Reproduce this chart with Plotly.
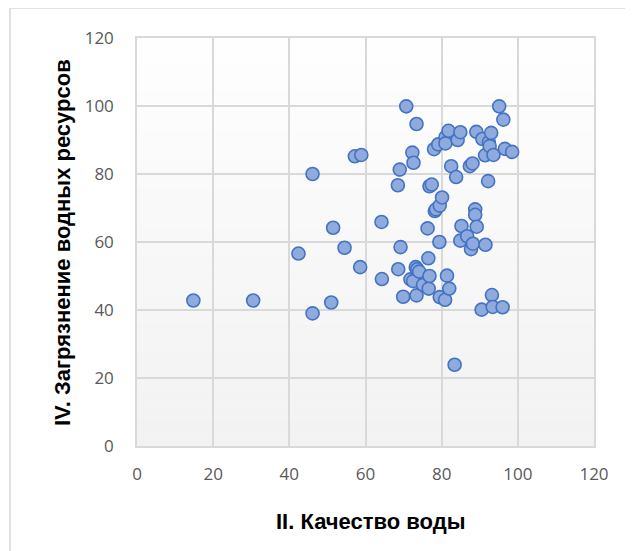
import plotly.graph_objects as go

# II. Качество воды (x) and IV. Загрязнение водных ресурсов (y)
water_quality = [
    14.8, 30.5, 42.4, 46.1, 46.1, 51.0, 51.5, 54.5, 57.2, 58.9,
    58.6, 64.3, 64.2, 68.6, 68.5, 69.0, 69.2, 69.9, 70.7, 72.3,
    72.6, 73.4, 73.4, 71.8, 72.5, 73.2, 73.6, 74.1, 75.1, 76.5,
    76.3, 76.6, 76.8, 76.8, 77.4, 78.0, 78.2, 78.5, 79.1, 79.4,
    79.5, 80.1, 79.5, 80.9, 81.4, 82.0, 81.0, 81.0, 81.8, 82.5,
    83.4, 83.8, 84.2, 84.9, 84.9, 85.2, 86.7, 87.4, 88.1, 87.7,
    88.2, 88.8, 88.8, 89.2, 89.1, 90.5, 90.7, 91.5, 91.4, 92.2,
    92.4, 92.6, 93.0, 93.2, 93.4, 93.6, 95.1, 96.0, 96.2, 96.6,
    98.5,
]
water_pollution = [
    42.8, 42.8, 56.6, 80.0, 39.0, 42.2, 64.2, 58.3, 85.2, 85.6,
    52.6, 49.1, 65.9, 52.0, 76.7, 81.3, 58.5, 43.9, 99.9, 86.3,
    83.3, 94.7, 44.3, 49.0, 48.5, 52.6, 52.0, 51.3, 47.4, 55.2,
    64.0, 46.3, 50.0, 76.4, 76.9, 87.3, 69.1, 69.6, 88.7, 60.0,
    70.7, 73.1, 43.8, 43.0, 50.1, 46.3, 90.8, 89.0, 92.7, 82.3,
    23.9, 79.1, 90.0, 92.3, 60.4, 64.7, 61.7, 82.3, 83.1, 57.9,
    59.5, 69.6, 68.0, 64.5, 92.4, 40.1, 90.3, 59.2, 85.5, 77.9,
    89.4, 88.2, 92.1, 44.4, 40.9, 85.6, 99.9, 40.8, 96.0, 87.4,
    86.5,
]
tick_vals = [0, 20, 40, 60, 80, 100, 120]
x_title = "II. Качество воды"
y_title = "IV. Загрязнение водных ресурсов"

fig = go.Figure()
fig.add_trace(go.Scatter(
    x=water_quality, y=water_pollution, mode="markers",
    marker=dict(size=13, color="#8faadc", line=dict(color="#4472c4", width=1.6)),
    showlegend=False, hoverinfo="x+y",
))

# subtle vertical gradient in plot area
shapes = []
n = 30
for i in range(n):
    t = i / (n - 1)
    c = int(round(254 - (254 - 242) * t))
    shapes.append(dict(type="rect", xref="paper", yref="paper",
                       x0=0, x1=1, y0=1 - (i + 1) / n, y1=1 - i / n,
                       fillcolor=f"rgb({c},{c},{c})", line=dict(width=0), layer="below"))
# outer chart border (left/top visible)
shapes.append(dict(type="rect", xref="paper", yref="paper",
                   x0=-0.2779, x1=1.3, y0=-0.5, y1=1.0735,
                   line=dict(color="#d9d9d9", width=1.5), fillcolor="rgba(0,0,0,0)", layer="above"))

axis_common = dict(
    range=[0, 120], tickvals=tick_vals, showgrid=True, gridcolor="#d9d9d9", gridwidth=1.5,
    showline=True, mirror=True, linecolor="#d9d9d9", linewidth=1.5, zeroline=False,
    tickfont=dict(family="Open Sans", size=17, color="#595959"), ticks="",
)

fig.update_layout(
    width=625, height=543,
    margin=dict(l=129, r=39, t=30, b=105),
    paper_bgcolor="white", plot_bgcolor="#fafafa",
    xaxis=dict(axis_common, ticklabelstandoff=12),
    yaxis=dict(axis_common, ticklabelstandoff=18),
    shapes=shapes,
    annotations=[
        dict(text=f"<b>{x_title}</b>", xref="paper", yref="paper", x=0.510, y=-0.184,
             xanchor="center", yanchor="middle", showarrow=False,
             font=dict(family="Liberation Sans", size=22, color="#000000")),
        dict(text=f"<b>{y_title}</b>", xref="paper", yref="paper", x=-0.164, y=0.4975,
             xanchor="center", yanchor="middle", showarrow=False, textangle=-90,
             font=dict(family="Liberation Sans", size=22, color="#000000")),
    ],
)

fig.write_html("out.html")
